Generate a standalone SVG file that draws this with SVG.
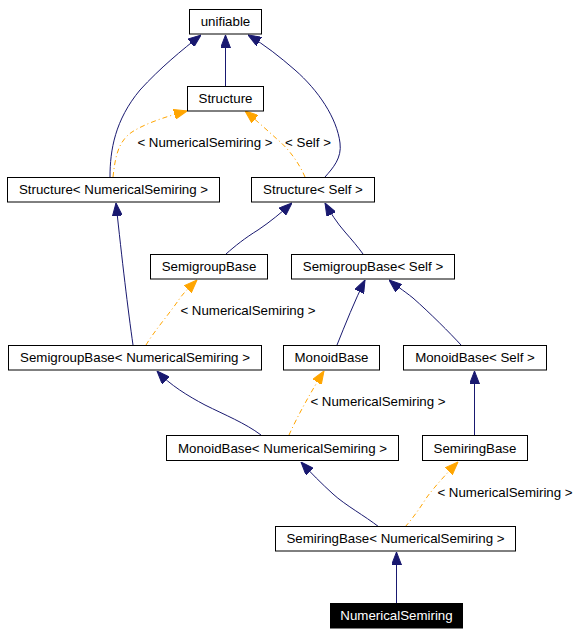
<svg xmlns="http://www.w3.org/2000/svg" width="580" height="636" viewBox="0 0 580 636">
<defs>
<style>
.n rect{fill:#fff;stroke:#000;stroke-width:1}
.n text{font-family:"Liberation Sans",Arial,sans-serif;font-size:13.3px;text-anchor:middle;fill:#000}
#NumericalSemiring rect{fill:#000}
#NumericalSemiring text{fill:#fff}
.e{fill:none;stroke-width:1}
.b{stroke:#191970;marker-end:url(#ab)}
.o{stroke:#ffa500;stroke-dasharray:5,3,1,3;marker-end:url(#ao)}
.l{font-family:"Liberation Sans",Arial,sans-serif;font-size:13.3px;text-anchor:middle;fill:#000}
</style>
<marker id="ab" viewBox="0 0 13 10" refX="13" refY="5" markerWidth="13" markerHeight="10" markerUnits="userSpaceOnUse" orient="auto"><path d="M0,0 L13,5 L0,10 z" fill="#191970" stroke="#191970"/></marker>
<marker id="ao" viewBox="0 0 13 10" refX="13" refY="5" markerWidth="13" markerHeight="10" markerUnits="userSpaceOnUse" orient="auto"><path d="M0,0 L13,5 L0,10 z" fill="#ffa500" stroke="#ffa500"/></marker>
</defs>
<rect width="580" height="636" fill="#fff"/>
<g id="edges">
<path class="e b" d="M225.5,86.5 L225.5,35"/>
<path class="e b" d="M110,177 C110,150 115,120 140,90 C160,68 182,50 201,35"/>
<path class="e b" d="M325,177 C333,168 342,158 340,143 C337,118 318,90 295,70 C280,57 265,45 248,35"/>
<path class="e o" d="M113,177 C115,160 117,142 132,132 C146,123 168,116 187,111"/>
<path class="e o" d="M305,177 C300,165 290,150 278,140 C268,131 256,120 245,111"/>
<path class="e b" d="M226,254 C235,246 245,238 258,230 C270,222 282,212 292,203"/>
<path class="e b" d="M363,254 C358,247 352,240 345,232 C337,223 330,212 325,203"/>
<path class="e b" d="M133,345 C128,310 122,260 116,203"/>
<path class="e o" d="M146,345 C155,330 170,313 180,298 C186,290 192,285 197,280"/>
<path class="e b" d="M337,345 C345,325 355,300 365,280"/>
<path class="e b" d="M461,345 C450,333 430,313 413,298 C403,290 395,285 389,280"/>
<path class="e b" d="M261,435 C245,423 225,415 205,405 C188,396 170,385 157,371"/>
<path class="e o" d="M289,435 C298,415 312,390 324,371"/>
<path class="e b" d="M474.5,435 L474.5,371"/>
<path class="e b" d="M379,527 C365,516 345,505 333,494 C322,484 310,472 301,462"/>
<path class="e o" d="M405,527 C413,518 420,508 427,497 C436,485 448,472 458,462"/>
<path class="e b" d="M396.5,603 L396.5,552"/>
<text class="l" x="205" y="147">&lt; NumericalSemiring &gt;</text>
<text class="l" x="308" y="147">&lt; Self &gt;</text>
<text class="l" x="248" y="315">&lt; NumericalSemiring &gt;</text>
<text class="l" x="378" y="406">&lt; NumericalSemiring &gt;</text>
<text class="l" x="505" y="497">&lt; NumericalSemiring &gt;</text>
</g>
<g id="unifiable" class="n"><rect x="189.5" y="9.5" width="72" height="24.5"/><text x="225.5" y="26.3">unifiable</text></g>
<g id="Structure" class="n"><rect x="187.5" y="86.5" width="76" height="24.5"/><text x="225.5" y="103.3">Structure</text></g>
<g id="StructureNS" class="n"><rect x="7.5" y="177.5" width="212" height="24.5"/><text x="113.5" y="194.3">Structure&lt; NumericalSemiring &gt;</text></g>
<g id="StructureSelf" class="n"><rect x="251.5" y="177.5" width="123" height="24.5"/><text x="313" y="194.3">Structure&lt; Self &gt;</text></g>
<g id="SemigroupBase" class="n"><rect x="150.5" y="254.5" width="117" height="24.5"/><text x="209" y="271.3">SemigroupBase</text></g>
<g id="SemigroupBaseSelf" class="n"><rect x="291.5" y="254.5" width="163" height="24.5"/><text x="373" y="271.3">SemigroupBase&lt; Self &gt;</text></g>
<g id="SemigroupBaseNS" class="n"><rect x="8.5" y="345.5" width="253" height="24.5"/><text x="135" y="362.3">SemigroupBase&lt; NumericalSemiring &gt;</text></g>
<g id="MonoidBase" class="n"><rect x="283.5" y="345.5" width="96" height="24.5"/><text x="331.5" y="362.3">MonoidBase</text></g>
<g id="MonoidBaseSelf" class="n"><rect x="403.5" y="345.5" width="143" height="24.5"/><text x="475" y="362.3">MonoidBase&lt; Self &gt;</text></g>
<g id="MonoidBaseNS" class="n"><rect x="166.5" y="435.5" width="232" height="25"/><text x="282.5" y="452.5">MonoidBase&lt; NumericalSemiring &gt;</text></g>
<g id="SemiringBase" class="n"><rect x="422.5" y="435.5" width="105" height="25"/><text x="475" y="452.5">SemiringBase</text></g>
<g id="SemiringBaseNS" class="n"><rect x="275.5" y="526.5" width="240" height="24.5"/><text x="395.5" y="543.3">SemiringBase&lt; NumericalSemiring &gt;</text></g>
<g id="NumericalSemiring" class="n"><rect x="330.5" y="603.5" width="132" height="24.5"/><text x="396.5" y="620.3">NumericalSemiring</text></g>
</svg>
